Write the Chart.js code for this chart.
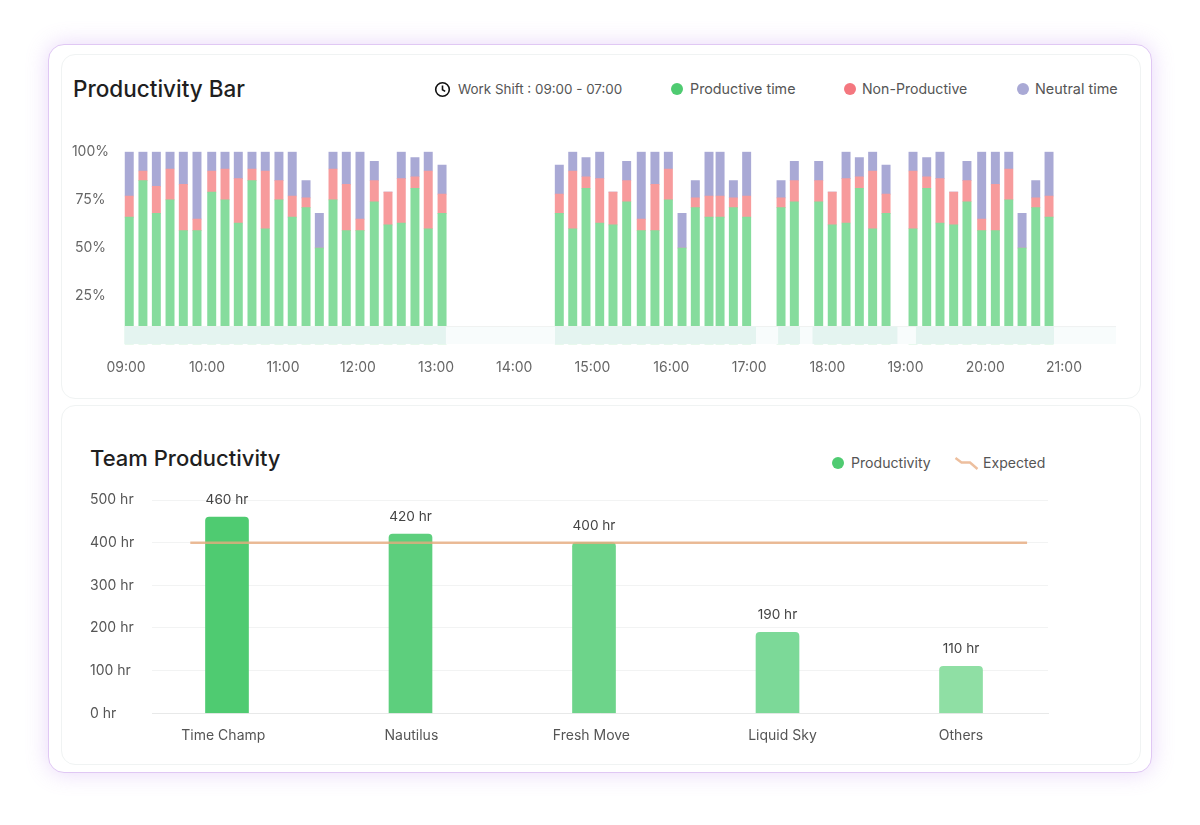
<!DOCTYPE html>
<html>
<head>
<meta charset="utf-8">
<title>Productivity</title>
<script src="https://cdn.jsdelivr.net/npm/chart.js@4/dist/chart.umd.min.js"></script>
<style>
  html, body { margin: 0; padding: 0; background: #fff; }
  body { width: 1200px; height: 825px; position: relative; overflow: hidden; font-family: Inter, sans-serif; color: #555; }
  .outer { position: absolute; left: 48px; top: 44px; width: 1102px; height: 727px; background: #fff; border: 1.5px solid #e0c8f4; border-radius: 16px; box-shadow: 0 0 22px rgba(180, 120, 235, 0.3); }
  .card { position: absolute; left: 61px; width: 1078px; background: #fff; border: 1px solid #f0f3f3; border-radius: 14px; }
  canvas { position: absolute; }
  .title { position: absolute; font-size: 22.5px; font-weight: 500; color: #1f1f1f; line-height: 28px; white-space: nowrap; }
  .item { position: absolute; font-size: 14.1px; line-height: 20px; white-space: nowrap; }
  .dot { position: absolute; width: 12px; height: 12px; border-radius: 50%; }
  svg { position: absolute; }
</style>
</head>
<body>
<div class="outer"></div>
<div class="card" style="top:54px;height:343px"></div>
<div class="card" style="top:405px;height:358px"></div>

<div class="title" style="left:73px;top:75px">Productivity Bar</div>
<svg style="left:434px;top:81px" width="17" height="17" viewBox="0 0 17 17" fill="none" stroke="#111" stroke-width="1.6">
  <circle cx="8.5" cy="8.5" r="6.8"></circle><path d="M8.5 4.6V8.8L11.2 10.4"></path>
</svg>
<div class="item" style="left:458px;top:79px;font-size:13.4px">Work Shift : 09:00 - 07:00</div>
<div class="dot" style="left:671px;top:83px;background:#4fcb71"></div>
<div class="item" style="left:690px;top:79px;font-size:14.3px">Productive time</div>
<div class="dot" style="left:844px;top:83px;background:#f4777f"></div>
<div class="item" style="left:862px;top:79px">Non-Productive</div>
<div class="dot" style="left:1017px;top:83px;background:#a9a9d5"></div>
<div class="item" style="left:1035px;top:79px;font-size:14.4px">Neutral time</div>
<canvas id="productivityBar" width="1070" height="255" style="left:60px;top:130px"></canvas>

<div class="title" style="left:90px;top:444px;font-size:22px">Team Productivity</div>
<div class="dot" style="left:832px;top:457px;background:#4fcb71"></div>
<div class="item" style="left:851px;top:453px">Productivity</div>
<svg style="left:950px;top:453px" width="32" height="20" viewBox="0 0 32 20" fill="none" stroke="#edbf9e" stroke-width="2.4">
  <path d="M5.5 5L11.5 9.5H20L27.5 16"></path>
</svg>
<div class="item" style="left:983px;top:453px">Expected</div>
<canvas id="teamProductivity" width="970" height="275" style="left:90px;top:480px"></canvas>

<script>
// Productivity Bar: each bar is one sample, position in minutes after 09:00
const barMinutes = [
  2.5, 13, 23.3, 33.8, 44, 54.5, 65.8, 76, 86.2, 96.7, 106.9, 117.4,
  127.6, 138.2, 148.4, 158.9, 169.1, 179.6, 190.6, 201.1, 211.3, 221.8, 232, 242.6,
  332.6, 342.9, 353.1, 363.6, 373.8, 384.3, 395.5, 406, 416.3, 426.8, 437, 447.5, 456, 466.2, 476.4,
  502.8, 513, 531.7, 542.1, 552.7, 562.9, 573.1, 583.4,
  604.1, 614.6, 624.8, 635.3, 645.5, 656.8, 667.3, 677.6, 687.8, 698.3, 708.5,
];
const productive = [
  66, 85, 68, 75, 59, 59, 79, 75, 63, 85, 60, 75,
  66, 71, 50, 75, 59, 59, 74, 62, 63, 81, 60, 68,
  68, 60, 81, 63, 62, 74, 59, 59, 75, 50, 71, 66, 66, 71, 66,
  71, 74, 74, 62, 63, 81, 60, 68,
  60, 81, 63, 62, 74, 59, 59, 75, 50, 71, 66,
];
const nonProductive = [
  11, 5, 14, 16, 24, 6, 11, 16, 23, 6, 30, 10,
  11, 5, 0, 16, 24, 6, 11, 17, 23, 6, 30, 10,
  10, 30, 6, 23, 17, 11, 6, 24, 16, 0, 5, 11, 11, 5, 11,
  5, 11, 11, 17, 23, 6, 30, 10,
  30, 6, 23, 17, 11, 6, 24, 16, 0, 5, 11,
];
const neutral = [
  23, 10, 18, 9, 17, 35, 10, 9, 14, 9, 10, 15,
  23, 9, 18, 9, 17, 35, 10, 0, 14, 10, 10, 15,
  15, 10, 10, 14, 0, 10, 35, 17, 9, 18, 9, 23, 23, 9, 23,
  9, 10, 10, 0, 14, 10, 10, 15,
  10, 10, 14, 0, 10, 35, 17, 9, 18, 9, 23,
];
const percentTicks = [25, 50, 75, 100];
const timeLabels = ["09:00", "10:00", "11:00", "12:00", "13:00", "14:00", "15:00", "16:00", "17:00", "18:00", "19:00", "20:00", "21:00"];
const timeTickMinutes = [0, 62.2, 120.5, 178, 238, 298, 358, 418.6, 478.4, 538.4, 598.3, 659.6, 720];

// Activity strip under the bars: [start, end] in minutes
const activeSpans = [[-1.3, 245.6], [329.3, 483.6], [500.5, 517.4], [526.8, 592.3], [606.2, 712.3]];
const idleSpan = [-1.3, 760];
const stripHeight = 9.2;

// Team Productivity
const teamNames = ["Time Champ", "Nautilus", "Fresh Move", "Liquid Sky", "Others"];
const teamHours = [460, 420, 400, 190, 110];
const teamTickPositions = [-0.02, 1.005, 1.986, 3.027, 4];
const expectedHours = 400;
const hourTicks = [0, 100, 200, 300, 400, 500];

const tickFont = { family: "Inter, sans-serif", size: 14 };
const tickColor = "#666";

function stackedBar(label, values, color) {
  return {
    label: label,
    data: barMinutes.map((x, i) => ({ x: x, y: values[i] })),
    backgroundColor: color,
    barThickness: 8.3,
    stack: "day",
    order: 3,
  };
}

// Gaps in the strip are null points so the fill breaks there
const activePoints = [];
activeSpans.forEach((span) => {
  activePoints.push({ x: span[0], y: stripHeight }, { x: span[1], y: stripHeight }, { x: span[1], y: null });
});

new Chart(document.getElementById("productivityBar").getContext("2d"), {
  type: "bar",
  data: {
    datasets: [
      stackedBar("Productive time", productive, "#86dc9d"),
      stackedBar("Non-Productive", nonProductive, "#f79b9c"),
      stackedBar("Neutral time", neutral, "#a9a9d5"),
      {
        type: "line",
        label: "Idle",
        data: idleSpan.map((x) => ({ x: x, y: stripHeight })),
        stack: "idle",
        order: 2,
        fill: "origin",
        backgroundColor: "#f8fcfc",
        borderColor: "#f0f3f2",
        borderWidth: 1,
        pointRadius: 0,
      },
      {
        type: "line",
        label: "Active",
        data: activePoints,
        stack: "active",
        order: 1,
        fill: "origin",
        backgroundColor: "#e4f4f0",
        borderWidth: 0,
        pointRadius: 0,
      },
    ],
  },
  options: {
    responsive: false,
    animation: false,
    layout: { padding: { top: 21.7, right: 14, left: 0, bottom: 0 } },
    scales: {
      x: {
        type: "linear",
        offset: false,
        min: -4.6,
        max: 759.9,
        grid: { display: false, drawTicks: false },
        border: { display: false },
        afterBuildTicks: (axis) => {
          axis.ticks = timeTickMinutes.map((value) => ({ value: value }));
        },
        afterFit: (axis) => {
          axis.height = 40.7;
        },
        ticks: {
          autoSkip: false,
          maxRotation: 0,
          padding: 15,
          font: tickFont,
          color: tickColor,
          callback: (value, index) => timeLabels[index],
        },
      },
      y: {
        stacked: true,
        min: 0,
        max: 100,
        grid: { display: false, drawTicks: false },
        border: { display: false },
        afterBuildTicks: (axis) => {
          axis.ticks = percentTicks.map((value) => ({ value: value }));
        },
        afterFit: (axis) => {
          axis.width = 60;
        },
        ticks: {
          crossAlign: "center",
          padding: 11,
          font: tickFont,
          color: tickColor,
          callback: (value) => value + "%",
        },
      },
    },
    plugins: { legend: { display: false }, tooltip: { enabled: false } },
  },
});

// Writes "460 hr" above each team bar
const hourLabels = {
  id: "hourLabels",
  afterDatasetsDraw(chart) {
    const ctx = chart.ctx;
    const bars = chart.getDatasetMeta(1).data;
    ctx.save();
    ctx.font = "13.6px Inter, sans-serif";
    ctx.fillStyle = "#444";
    ctx.textAlign = "center";
    ctx.textBaseline = "middle";
    bars.forEach((bar, i) => {
      ctx.fillText(teamHours[i] + " hr", bar.x, bar.y - 17);
    });
    ctx.restore();
  },
};

new Chart(document.getElementById("teamProductivity").getContext("2d"), {
  type: "bar",
  data: {
    datasets: [
      {
        type: "line",
        label: "Expected",
        data: [
          { x: -0.2, y: expectedHours },
          { x: 4.36, y: expectedHours },
        ],
        order: 1,
        borderColor: "rgba(230, 170, 125, 0.8)",
        borderWidth: 2.5,
        pointRadius: 0,
      },
      {
        label: "Productivity",
        data: teamNames.map((_, i) => ({ x: i, y: teamHours[i] })),
        order: 2,
        backgroundColor: ["#4fcb71", "#5dcf7d", "#6dd48a", "#7cd998", "#8fdfa4"],
        barThickness: 43,
        borderRadius: { topLeft: 4, topRight: 4, bottomLeft: 0, bottomRight: 0 },
        borderSkipped: false,
      },
    ],
  },
  options: {
    responsive: false,
    animation: false,
    layout: { padding: { top: 20, right: 12, left: 0, bottom: 0 } },
    scales: {
      x: {
        type: "linear",
        offset: false,
        min: -0.4087,
        max: 4.474,
        grid: { display: false, drawTicks: false },
        border: { display: true, color: "#e8e9e9" },
        afterBuildTicks: (axis) => {
          axis.ticks = teamTickPositions.map((value) => ({ value: value }));
        },
        afterFit: (axis) => {
          axis.height = 41.7;
        },
        ticks: {
          autoSkip: false,
          maxRotation: 0,
          padding: 14,
          font: tickFont,
          color: "#555",
          callback: (value, index) => teamNames[index],
        },
      },
      y: {
        min: 0,
        max: 500,
        grid: { color: "#f2f3f3", drawTicks: false },
        border: { display: false },
        afterBuildTicks: (axis) => {
          axis.ticks = hourTicks.map((value) => ({ value: value }));
        },
        afterFit: (axis) => {
          axis.width = 62;
        },
        ticks: {
          crossAlign: "far",
          font: tickFont,
          color: "#555",
          callback: (value) => value + " hr",
        },
      },
    },
    plugins: { legend: { display: false }, tooltip: { enabled: false } },
  },
  plugins: [hourLabels],
});
</script>
</body>
</html>
